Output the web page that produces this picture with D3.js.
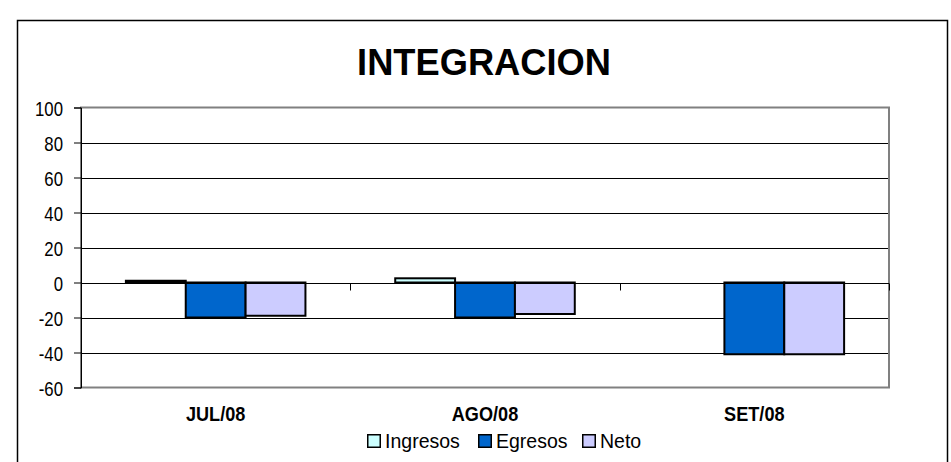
<!DOCTYPE html>
<html>
<head>
<meta charset="utf-8">
<script src="https://cdn.jsdelivr.net/npm/d3@7"></script>
<style>
  body { margin: 0; background: #fff; }
  svg { display: block; font-family: "Liberation Sans", Arial, sans-serif; }
</style>
</head>
<body>
<svg id="chart" width="951" height="462"></svg>
<script>
var categories = ['JUL/08', 'AGO/08', 'SET/08'];
var series = ['Ingresos', 'Egresos', 'Neto'];
var ingresos = [1, 2.4, 0];
var egresos = [-20, -20, -41];
var neto = [-19, -18, -41];
var y_ticks = [-60, -40, -20, 0, 20, 40, 60, 80, 100];
var colors = ['#CCFFFF', '#0066CC', '#CCCCFF'];

var values = [ingresos, egresos, neto];

var svg = d3.select('#chart');
var plot = {left: 81, right: 889, top: 107.5, bottom: 387.5};

// text in the picture is a bit narrower than plain Arial
function squeezed(parent, x, y, sx){
    return parent.append('text')
        .attr('transform', 'translate(' + x + ',' + y + ') scale(' + sx + ',1)');
}

// outer chart frame
svg.append('rect')
    .attr('x', 17.5)
    .attr('y', 20.5)
    .attr('width', 930)
    .attr('height', 460)
    .attr('fill', '#fff')
    .attr('stroke', '#000')
    .attr('stroke-width', 1.5);

squeezed(svg, 484, 75, 0.98)
    .attr('text-anchor', 'middle')
    .attr('font-size', '37px')
    .attr('font-weight', 'bold')
    .text('INTEGRACION');

var y = d3.scaleLinear().domain([-60, 100]).range([plot.bottom, plot.top]);
var x0 = d3.scaleBand().domain(categories).range([plot.left, plot.right]);
var bar_w = x0.bandwidth() / 4.5;
var x1 = d3.scaleBand().domain(series).range([0.75 * bar_w, 3.75 * bar_w]);

// gridlines
svg.append('g').selectAll('line')
    .data(y_ticks.filter(function(d){ return d > -60 && d < 100; }))
    .join('line')
    .attr('x1', plot.left)
    .attr('x2', plot.right)
    .attr('y1', function(d){ return Math.round(y(d)) + 0.5; })
    .attr('y2', function(d){ return Math.round(y(d)) + 0.5; })
    .attr('stroke', '#000')
    .attr('stroke-width', 1);

// plot border
svg.append('rect')
    .attr('x', plot.left)
    .attr('y', plot.top)
    .attr('width', plot.right - plot.left)
    .attr('height', plot.bottom - plot.top)
    .attr('fill', 'none')
    .attr('stroke', '#808080')
    .attr('stroke-width', 2);

// bars
var groups = svg.append('g').selectAll('g')
    .data(categories)
    .join('g')
    .attr('transform', function(d){ return 'translate(' + x0(d) + ',0)'; });

groups.selectAll('rect')
    .data(function(d, i){
        return series.map(function(s, j){ return {series: s, value: values[j][i], color: colors[j]}; });
    })
    .join('rect')
    .filter(function(d){ return d.value !== 0; })
    .attr('x', function(d){ return x1(d.series); })
    .attr('width', x1.bandwidth())
    .attr('y', function(d){ return y(Math.max(0, d.value)); })
    .attr('height', function(d){ return Math.abs(y(d.value) - y(0)); })
    .attr('fill', function(d){ return d.color; })
    .attr('stroke', '#000')
    .attr('stroke-width', 2);

// value axis
var tick_sx = 0.86;
var y_axis = svg.append('g')
    .attr('transform', 'translate(' + plot.left + ',0)')
    .call(d3.axisLeft(y).tickValues(y_ticks).tickSize(7)
        .tickFormat(function(d){ return String(d); }));
y_axis.select('.domain').attr('stroke', '#000');
y_axis.selectAll('text')
    .attr('x', -18 / tick_sx)
    .attr('dy', '0.42em')
    .attr('transform', 'scale(' + tick_sx + ',1)')
    .attr('font-size', '19.5px')
    .attr('font-family', '"Liberation Sans", Arial, sans-serif')
    .attr('fill', '#000');

// category axis on zero line
var zero = Math.round(y(0)) + 0.5;
svg.append('line')
    .attr('x1', plot.left)
    .attr('x2', plot.right)
    .attr('y1', zero)
    .attr('y2', zero)
    .attr('stroke', '#000');

svg.append('g').selectAll('line')
    .data(categories.slice(1).map(function(d){ return x0(d); }).concat([plot.right]))
    .join('line')
    .attr('x1', function(d){ return Math.round(d) + 0.5; })
    .attr('x2', function(d){ return Math.round(d) + 0.5; })
    .attr('y1', zero)
    .attr('y2', zero + 7)
    .attr('stroke', '#000');

var cat_labels = svg.append('g');
categories.forEach(function(c){
    squeezed(cat_labels, x0(c) + x0.bandwidth() / 2, 421, 0.93)
        .attr('text-anchor', 'middle')
        .attr('font-size', '19.5px')
        .attr('font-weight', 'bold')
        .text(c);
});

// legend
var legend_x = [367, 478, 582];
var legend = svg.append('g').selectAll('g')
    .data(series)
    .join('g')
    .attr('transform', function(d, i){ return 'translate(' + legend_x[i] + ',434)'; });

legend.append('rect')
    .attr('x', 0.75)
    .attr('y', 0.75)
    .attr('width', 12.5)
    .attr('height', 12.5)
    .attr('fill', function(d, i){ return colors[i]; })
    .attr('stroke', '#000')
    .attr('stroke-width', 1.5);

legend.each(function(d){
    squeezed(d3.select(this), 18, 14, 0.93)
        .attr('font-size', '21px')
        .text(d);
});
</script>
</body>
</html>
